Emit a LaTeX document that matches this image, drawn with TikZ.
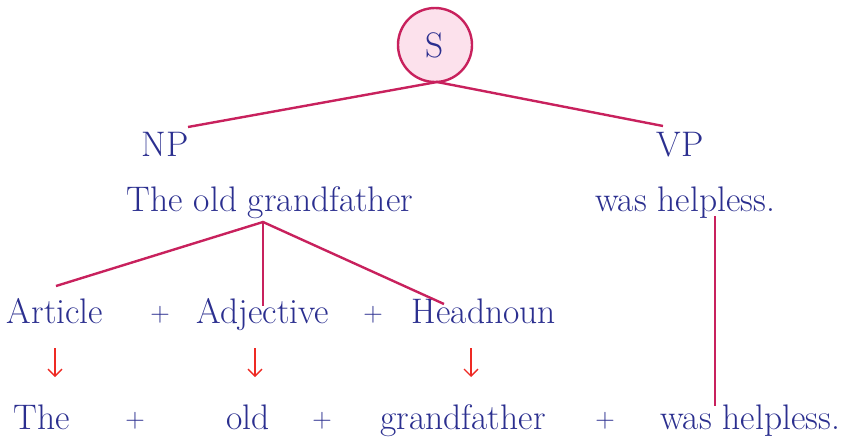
\documentclass[tikz,border=0pt]{standalone}
\usetikzlibrary{arrows.meta}
\definecolor{txtblue}{HTML}{2B2F8F}
\definecolor{linered}{HTML}{C8215D}
\definecolor{circfill}{HTML}{FCE1EC}
\definecolor{arrred}{HTML}{EE2A24}
\begin{document}
\begin{tikzpicture}[x=1pt,y=-1pt,
  lbl/.style={text=txtblue,font=\fontsize{35.5}{40}\selectfont,inner sep=0pt,anchor=base},
  plus/.style={text=txtblue,font=\fontsize{27}{32}\selectfont,inner sep=0pt,anchor=base},
  branch/.style={draw=linered,line width=2.4pt},
  down/.style={draw=arrred,line width=1.3pt,-{Straight Barb[length=7pt,width=14pt,line width=1.3pt]}}]
\useasboundingbox (0,0) rectangle (849,439);
\node[circle,draw=linered,fill=circfill,line width=2.4pt,minimum size=74pt,inner sep=0pt,text=txtblue,font=\fontsize{35.5}{40}\selectfont] (S) at (435,45) {S};
\node[lbl] (NP) at (165,156) {NP};
\node[lbl] (VP) at (680,156) {VP};
\node[lbl] (NPtext) at (270,211) {The old grandfather};
\node[lbl] (VPtext) at (685,211) {was helpless.};
\node[lbl] (art) at (55,323) {Article};
\node[plus] (p1) at (160,321) {+};
\node[lbl] (adj) at (263,323) {Adjective};
\node[plus] (p2) at (373,321) {+};
\node[lbl] (hn) at (484,323) {Headnoun};
\node[lbl] (w1) at (42,429) {The};
\node[plus] (p3) at (135,427) {+};
\node[lbl] (w2) at (248,429) {old};
\node[plus] (p4) at (322,427) {+};
\node[lbl] (w3) at (463,429) {grandfather};
\node[plus] (p5) at (605,427) {+};
\node[lbl] (w4) at (750,429) {was helpless.};
\coordinate (Sb) at (437,82);
\coordinate (NPe) at (188,127);
\coordinate (VPe) at (663,126);
\coordinate (NPb) at (263,222);
\coordinate (arte) at (56,286);
\coordinate (adje) at (263,306);
\coordinate (hne) at (444,304);
\coordinate (VPb) at (715,216);
\coordinate (w4t) at (715,406);
\draw[branch] (NPe) -- (Sb) -- (VPe);
\draw[branch] (arte) -- (NPb) -- (hne);
\draw[branch] (NPb) -- (adje);
\draw[branch] (VPb) -- (w4t);
\coordinate (a1s) at (55,348); \coordinate (a1e) at (55,377);
\coordinate (a2s) at (255,348); \coordinate (a2e) at (255,377);
\coordinate (a3s) at (471,348); \coordinate (a3e) at (471,377);
\draw[down] (a1s) -- (a1e);
\draw[down] (a2s) -- (a2e);
\draw[down] (a3s) -- (a3e);
\end{tikzpicture}
\end{document}
